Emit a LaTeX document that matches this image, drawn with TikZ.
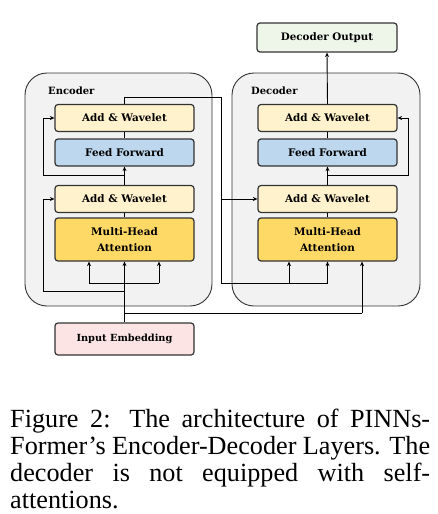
\documentclass[tikz,border=0pt]{standalone}
\usepackage{fontspec}
\setmainfont{Liberation Serif}
\newfontfamily\boxfont{DejaVu Serif}
\usetikzlibrary{arrows.meta}
\definecolor{awcol}{HTML}{FFF2CC}
\definecolor{ffcol}{HTML}{BDD7EE}
\definecolor{mhacol}{HTML}{FFD966}
\definecolor{outcol}{HTML}{EEF6EA}
\definecolor{incol}{HTML}{FCE4E4}
\definecolor{outer}{HTML}{F2F2F2}
\definecolor{bord}{HTML}{333333}
\tikzset{
  blk/.style={draw=bord, line width=1.2pt, rounded corners=3pt, minimum width=139pt, align=center, inner sep=0pt,
    font=\boxfont\bfseries\fontsize{10.4}{16.5}\selectfont},
  awbox/.style={blk, fill=awcol, minimum height=27pt},
  ffbox/.style={blk, fill=ffcol, minimum height=27pt},
  mhabox/.style={blk, fill=mhacol, minimum height=43pt},
  outerbox/.style={draw=bord, line width=0.9pt, fill=outer, rounded corners=22pt},
  lbl/.style={font=\boxfont\bfseries\fontsize{10}{12}\selectfont, anchor=west, inner sep=0pt},
  conn/.style={line width=0.9pt, draw=black},
  arr/.style={conn, -{Stealth[length=4.5pt,width=4pt]}}
}
\begin{document}
\begin{tikzpicture}[x=1pt,y=-1pt]
\useasboundingbox (0,0) rectangle (438,514);
\fill[white] (0,0) rectangle (438,514);
% outer boxes
\draw[outerbox] (25,73) rectangle (212,306);
\draw[outerbox] (232,73) rectangle (420,306);
\node[lbl] (enclbl) at (48,91) {Encoder};
\node[lbl] (declbl) at (251,91) {Decoder};
% encoder
\node[awbox] (eaw2) at (124.5,118) {Add \& Wavelet};
\node[ffbox] (eff) at (124.5,152.5) {Feed Forward};
\node[awbox] (eaw1) at (124.5,199) {Add \& Wavelet};
\node[mhabox] (emha) at (124.5,239.5) {Multi-Head\\Attention};
% decoder
\node[awbox] (daw2) at (327.5,118) {Add \& Wavelet};
\node[ffbox] (dff) at (327.5,152.5) {Feed Forward};
\node[awbox] (daw1) at (327.5,199) {Add \& Wavelet};
\node[mhabox] (dmha) at (327.5,239.5) {Multi-Head\\Attention};
% out / in
\node[blk, fill=outcol, minimum width=140pt, minimum height=29pt, font=\boxfont\bfseries\fontsize{10.3}{12}\selectfont] (out) at (327,37.5) {Decoder Output};
\node[blk, fill=incol, minimum height=32pt, font=\boxfont\bfseries\fontsize{9.8}{12}\selectfont] (in) at (124.5,339) {Input Embedding};
% coordinates
\coordinate (eq) at (89,283);
\coordinate (ek) at (159,283);
\coordinate (r1) at (124.5,291);
\coordinate (r2) at (124.5,175);
\coordinate (eo) at (124.5,97);
\coordinate (dr) at (327.5,175);
\coordinate (dq) at (289,283);
\coordinate (dk) at (327.5,283);
\coordinate (ib) at (124.5,313);
\coordinate (dv) at (362,313);
% encoder connectors
\draw[arr] (in.north) -- (emha.south);
\draw[conn] (eq) -- (ek);
\draw[arr] (eq) -- (eq |- emha.south);
\draw[arr] (ek) -- (ek |- emha.south);
\draw[arr] (r1) -| (43,199) -- (eaw1.west);
\draw[conn] (emha.north) -- (eaw1.south);
\draw[arr] (eaw1.north) -- (eff.south);
\draw[arr] (r2) -| (43,118) -- (eaw2.west);
\draw[conn] (eff.north) -- (eaw2.south);
% encoder to decoder
\draw[conn] (eaw2.north) -- (eo) -- (221,97) -- (221,283) -- (dk);
\draw[arr] (221,199) -- (daw1.west);
\draw[arr] (dq) -- (dq |- dmha.south);
\draw[arr] (dk) -- (dmha.south);
% input to decoder
\draw[conn] (ib) -- (dv);
\draw[arr] (dv) -- (dv |- dmha.south);
% decoder internals
\draw[conn] (dmha.north) -- (daw1.south);
\draw[arr] (daw1.north) -- (dff.south);
\draw[arr] (dr) -| (408,118) -- (daw2.east);
\draw[conn] (dff.north) -- (daw2.south);
\draw[arr] (daw2.north) -- (out.south);
% caption
\node[anchor=north west, inner sep=0pt, text width=420pt, font=\fontsize{26.2}{27.1}\selectfont, align=justify] (cap) at (10,408.5)
{Figure 2: The architecture of PINNs-\linebreak Former’s Encoder-Decoder Layers. The\linebreak decoder is not equipped with self-\linebreak attentions.};
\end{tikzpicture}
\end{document}
